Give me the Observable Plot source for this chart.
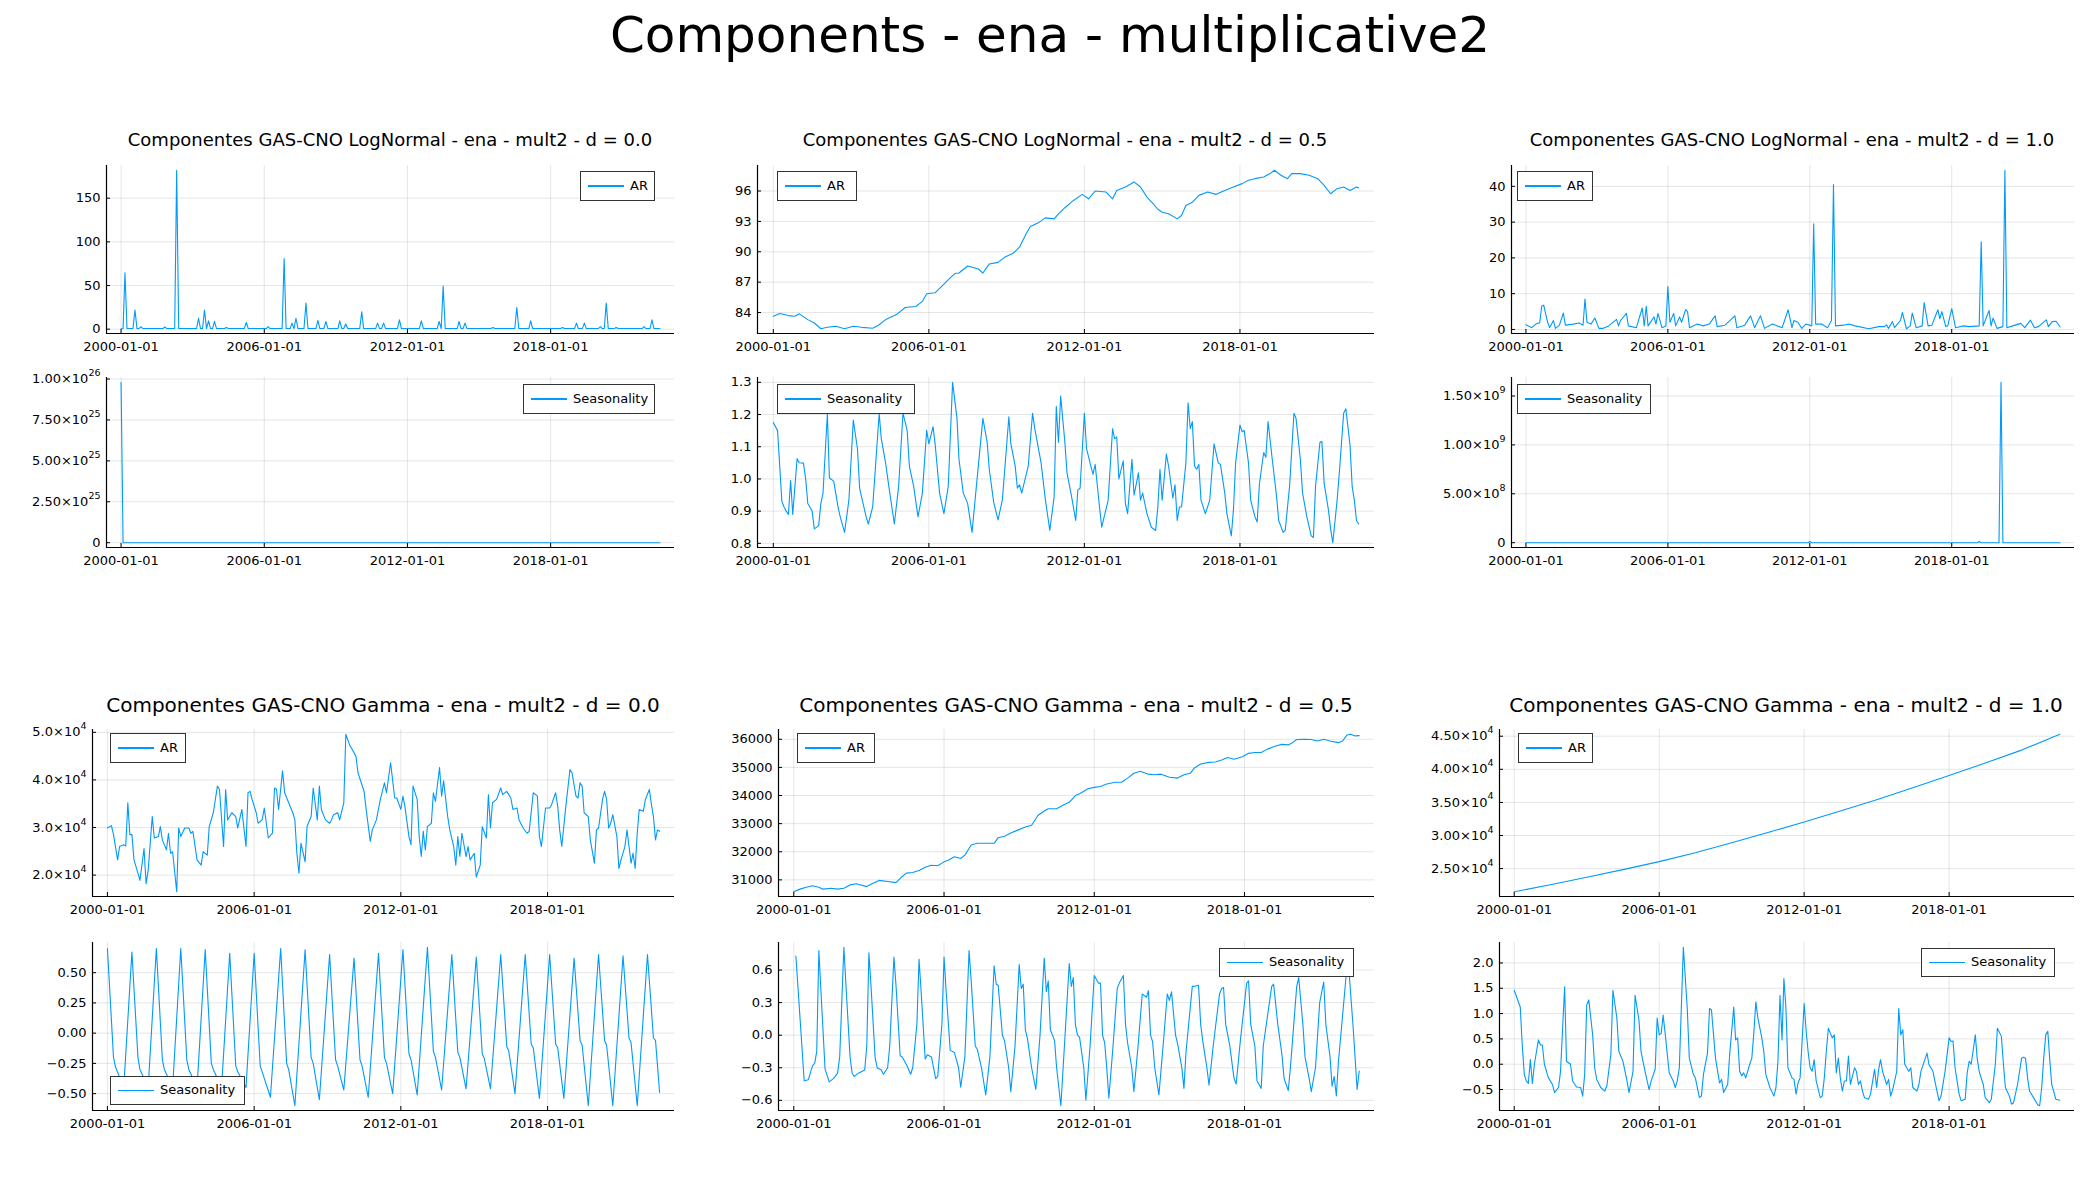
<!DOCTYPE html>
<html><head><meta charset="utf-8">
<script src="https://cdn.jsdelivr.net/npm/d3@7"></script>
<script src="https://cdn.jsdelivr.net/npm/@observablehq/plot@0.6"></script>
<style>
body{margin:0;background:#fff;}
#root{position:relative;width:2100px;height:1200px;font-family:"DejaVu Sans",sans-serif;overflow:hidden;background:#fff;}
.t{position:absolute;white-space:nowrap;text-align:center;color:#000;}
.leg{position:absolute;border:1.3px solid #333;background:#fff;box-sizing:border-box;font-size:13px;color:#000;}
.leg .sw{position:absolute;left:7px;width:36px;height:1.3px;background:#009AFA;}
.leg .lt{position:absolute;left:49px;top:0;}
.pn{position:absolute;}
</style></head>
<body><div id="root"></div>
<script>
// ---------- data (month index from 2000-01, value) ----------
const xTickLabels = ["2000-01-01","2006-01-01","2012-01-01","2018-01-01"];
const FIRST_MONTH = 0, LAST_MONTH = 271;

const lnD0_AR = [[0,0.5],[1,0.7],[2,64.7],[3,0.7],[6,0.7],[7,22],[8,0.7],[9,0.7],[10,3],[11,0.7],[21,0.7],[22,2.5],[23,0.7],[27,0.7],[28,182],[29,0.7],[38,0.7],[39,12.5],[40,0.7],[41,0.7],[42,22],[43,0.7],[44,9.5],[45,0.7],[46,0.7],[47,9],[48,0.7],[52,0.7],[53,2],[54,0.7],[62,0.7],[63,7.6],[64,0.7],[73,0.7],[74,3],[75,0.7],[81,0.7],[82,81],[83,0.7],[85,0.7],[86,7],[87,0.7],[88,12.5],[89,0.7],[92,0.7],[93,30],[94,0.7],[98,0.7],[99,10],[100,0.7],[102,0.7],[103,8.8],[104,0.7],[109,0.7],[110,9.5],[111,0.7],[112,0.7],[113,6],[114,0.7],[120,0.7],[121,20],[122,0.7],[128,0.7],[129,7],[130,0.7],[131,0.7],[132,7],[133,0.7],[139,0.7],[140,10.7],[141,0.7],[150,0.7],[151,9.5],[152,0.7],[159,0.7],[160,8.8],[161,0.7],[162,49.5],[163,0.7],[169,0.7],[170,8.8],[171,0.7],[172,0.7],[173,7],[174,0.7],[186,0.7],[187,2],[188,0.7],[198,0.7],[199,24.7],[200,0.7],[205,0.7],[206,9.5],[207,0.7],[221,0.7],[222,2],[223,0.7],[228,0.7],[229,7],[230,0.7],[232,0.7],[233,7],[234,0.7],[240,0.7],[241,3],[242,0.7],[243,0.7],[244,30],[245,0.7],[248,0.7],[249,2],[250,0.7],[262,0.7],[263,3],[264,0.7],[266,0.7],[267,10.7],[268,0.7],[271,0.7]];
const lnD0_S = [[0,9.8e25],[1,1],[271,1]];

const lnD05_AR = [[0,83.64],[3,83.9],[7,83.7],[10,83.64],[12,83.87],[16,83.3],[19,82.97],[22,82.4],[25,82.54],[29,82.64],[33,82.4],[37,82.64],[41,82.54],[46,82.45],[49,82.8],[52,83.3],[53,83.4],[57,83.8],[61,84.5],[66,84.6],[69,85.1],[71,85.85],[75,85.96],[79,86.8],[82,87.45],[84,87.85],[86,87.9],[90,88.6],[95,88.3],[97,87.9],[100,88.8],[104,88.95],[107,89.45],[111,89.85],[114,90.45],[117,91.75],[119,92.5],[123,92.9],[126,93.35],[130,93.25],[132,93.75],[135,94.35],[139,95.07],[143,95.67],[146,95.23],[149,96.0],[154,95.9],[157,95.23],[159,96.06],[163,96.4],[167,96.9],[170,96.4],[173,95.4],[176,94.7],[178,94.2],[180,93.9],[183,93.75],[187,93.25],[189,93.58],[191,94.57],[194,94.9],[197,95.57],[201,95.9],[205,95.67],[209,96.06],[213,96.4],[217,96.73],[220,97.06],[223,97.22],[227,97.39],[230,97.72],[232,98.05],[235,97.56],[238,97.22],[240,97.72],[244,97.72],[248,97.56],[252,97.22],[255,96.56],[258,95.73],[261,96.23],[264,96.4],[267,96.06],[270,96.4],[271,96.3]];
const lnD05_S = [[0,1.175],[2,1.15],[4,0.93],[5,0.913],[6,0.90],[7,0.89],[8,0.995],[9,0.89],[11,1.063],[12,1.05],[14,1.049],[15,1.0],[16,0.924],[18,0.9],[19,0.845],[21,0.855],[22,0.924],[23,0.955],[25,1.204],[26,1.003],[28,0.993],[30,0.913],[31,0.882],[33,0.834],[35,0.934],[37,1.183],[39,1.093],[40,0.971],[43,0.882],[44,0.86],[46,0.913],[49,1.204],[50,1.125],[52,1.05],[53,1.0],[56,0.86],[58,0.977],[60,1.204],[62,1.151],[63,1.04],[65,0.977],[67,0.882],[69,0.956],[71,1.151],[72,1.109],[74,1.162],[75,1.104],[77,0.956],[79,0.892],[81,0.977],[83,1.30],[85,1.188],[86,1.061],[88,0.956],[90,0.924],[92,0.834],[94,0.977],[97,1.188],[99,1.114],[100,1.03],[102,0.929],[104,0.873],[106,0.934],[109,1.193],[110,1.109],[112,1.04],[113,0.971],[114,0.982],[115,0.956],[118,1.04],[120,1.204],[121,1.156],[124,1.05],[126,0.934],[128,0.84],[130,0.945],[131,1.225],[132,1.114],[133,1.257],[135,1.114],[136,1.019],[138,0.95],[140,0.871],[141,0.966],[142,0.971],[144,1.204],[145,1.093],[147,1.04],[148,1.014],[149,1.045],[151,0.913],[152,0.85],[155,0.934],[157,1.156],[158,1.125],[159,1.13],[160,1.0],[162,1.056],[163,0.924],[164,0.892],[166,1.061],[167,0.95],[169,1.019],[170,0.934],[171,0.956],[173,0.892],[175,0.85],[177,0.84],[178,0.913],[179,1.03],[180,0.934],[182,1.077],[183,1.04],[185,0.94],[186,0.982],[187,0.871],[188,0.913],[189,0.913],[191,1.05],[192,1.236],[193,1.156],[194,1.178],[195,1.04],[196,1.03],[197,1.045],[198,0.934],[200,0.892],[202,0.934],[204,1.109],[206,1.05],[207,1.045],[209,0.956],[210,0.892],[212,0.823],[213,0.903],[214,1.05],[216,1.167],[217,1.146],[218,1.151],[220,1.05],[221,0.934],[223,0.882],[224,0.866],[225,0.982],[227,1.082],[228,1.067],[229,1.178],[231,1.061],[233,0.945],[234,0.871],[236,0.834],[237,0.84],[239,0.977],[241,1.204],[242,1.188],[244,1.061],[245,0.956],[247,0.882],[249,0.823],[250,0.818],[251,0.977],[253,1.114],[254,1.116],[255,0.987],[257,0.903],[258,0.845],[259,0.802],[261,0.934],[262,1.019],[264,1.204],[265,1.218],[267,1.104],[268,0.977],[269,0.934],[270,0.871],[271,0.86]];

const lnD1_AR = [[0,1.3],[3,0.5],[5,1.5],[7,1.9],[8,6.5],[9,6.8],[11,2],[12,0.5],[14,2.5],[15,0.3],[17,1.2],[19,4.6],[20,1.2],[24,1.5],[27,1.8],[29,1.2],[30,8.5],[31,2],[33,1.5],[35,3.2],[37,0.3],[39,0.3],[42,1],[46,2.8],[47,1],[48,2.5],[51,4.5],[52,1],[56,0.5],[59,6],[60,1],[61,6.5],[62,1],[65,3.5],[66,1.5],[67,4.5],[69,0.5],[71,1],[72,12],[73,2],[75,4.5],[76,1],[78,3.5],[79,2],[81,5.5],[82,5],[83,0.5],[87,1.5],[90,1],[93,1.5],[96,3.8],[97,0.8],[101,1.2],[106,3.8],[107,0.5],[111,1.2],[114,3.8],[116,0.5],[119,3.8],[121,0.3],[125,1.5],[130,0.5],[133,5.5],[135,0.5],[136,2.5],[138,2],[140,0.3],[142,1.5],[145,1],[146,29.5],[147,1.5],[150,1.5],[153,0.5],[155,2.5],[156,40.5],[157,1],[161,1.2],[164,1.5],[167,1],[174,0.2],[179,0.8],[182,0.8],[183,1.3],[184,0.3],[186,2.2],[187,0.5],[190,2.5],[191,4.8],[193,0.2],[195,1],[196,4.6],[198,0.5],[201,1],[202,7.5],[204,1],[206,1.2],[209,5.5],[210,3],[211,5],[213,0.8],[214,1],[216,5.8],[218,0.5],[222,1],[225,0.8],[230,1],[231,24.5],[232,1],[235,5.3],[236,1],[237,3.2],[239,0.3],[242,0.8],[243,44.5],[244,0.5],[247,1],[251,1.7],[253,0.5],[256,2.6],[258,0.5],[260,0.8],[264,2.7],[265,0.8],[267,2.2],[269,2.3],[271,0.7]];
const lnD1_S = [[0,1],[143,1],[144,1.2e7],[145,1],[229,1],[230,1.2e7],[231,1],[240,1],[241,1.64e9],[242,1],[271,1]];

const gD0_AR = [[0,2.99e4],[2,3.04e4],[3,2.85e4],[5,2.32e4],[6,2.6e4],[8,2.64e4],[9,2.61e4],[10,3.52e4],[11,2.85e4],[12,2.85e4],[13,2.32e4],[15,2.04e4],[16,1.89e4],[18,2.56e4],[19,1.82e4],[20,2.1e4],[22,3.23e4],[23,2.78e4],[25,2.81e4],[26,3.02e4],[27,2.74e4],[29,2.53e4],[30,2.88e4],[31,2.46e4],[32,2.49e4],[34,1.65e4],[35,2.99e4],[36,2.81e4],[38,2.99e4],[40,2.99e4],[41,2.88e4],[42,2.92e4],[44,2.32e4],[46,2.21e4],[47,2.49e4],[49,2.42e4],[50,3.02e4],[52,3.31e4],[54,3.87e4],[55,3.8e4],[57,2.6e4],[58,3.8e4],[59,3.16e4],[61,3.31e4],[63,3.23e4],[64,2.99e4],[66,3.38e4],[68,2.6e4],[69,3.73e4],[70,3.76e4],[71,3.59e4],[73,3.31e4],[74,3.09e4],[76,3.16e4],[77,3.41e4],[79,2.78e4],[81,2.88e4],[82,3.83e4],[83,3.8e4],[84,3.38e4],[86,4.19e4],[87,3.73e4],[89,3.52e4],[91,3.31e4],[92,3.16e4],[93,2.46e4],[94,2.04e4],[95,2.67e4],[97,2.28e4],[98,3.02e4],[100,3.23e4],[101,3.83e4],[103,3.16e4],[104,3.87e4],[105,3.38e4],[107,3.16e4],[109,3.09e4],[110,3.16e4],[111,3.27e4],[113,3.31e4],[114,3.16e4],[116,3.52e4],[117,4.96e4],[119,4.72e4],[120,4.65e4],[122,4.5e4],[123,4.15e4],[126,3.76e4],[127,3.38e4],[129,2.71e4],[130,2.95e4],[132,3.16e4],[134,3.59e4],[136,3.94e4],[137,3.73e4],[139,4.36e4],[141,3.62e4],[142,3.62e4],[144,3.38e4],[145,3.66e4],[146,3.45e4],[148,2.81e4],[149,2.64e4],[150,3.87e4],[152,3.59e4],[153,2.81e4],[154,2.39e4],[155,2.92e4],[156,2.53e4],[157,3.02e4],[159,3.09e4],[160,3.73e4],[161,3.55e4],[163,4.26e4],[164,3.66e4],[165,3.98e4],[167,3.23e4],[168,2.95e4],[170,2.6e4],[171,2.21e4],[172,2.81e4],[173,2.39e4],[174,2.88e4],[176,2.39e4],[177,2.6e4],[178,2.32e4],[180,2.46e4],[181,1.96e4],[183,2.21e4],[184,3.02e4],[186,2.78e4],[187,3.69e4],[188,2.99e4],[189,3.52e4],[191,3.59e4],[193,3.83e4],[194,3.69e4],[196,3.76e4],[198,3.62e4],[199,3.38e4],[201,3.41e4],[202,3.16e4],[204,2.99e4],[206,2.88e4],[207,2.92e4],[209,3.73e4],[211,3.66e4],[212,2.81e4],[213,2.6e4],[215,3.41e4],[217,3.41e4],[218,3.48e4],[220,3.73e4],[221,3.45e4],[222,2.95e4],[223,2.6e4],[225,3.45e4],[227,4.22e4],[228,4.15e4],[230,3.66e4],[231,3.62e4],[232,3.94e4],[233,3.87e4],[234,3.31e4],[236,3.23e4],[237,2.74e4],[239,2.25e4],[240,2.95e4],[241,2.99e4],[243,3.59e4],[244,3.76e4],[245,3.59e4],[246,2.99e4],[247,3.09e4],[248,3.27e4],[250,2.81e4],[251,2.14e4],[252,2.32e4],[254,2.6e4],[255,2.95e4],[257,2.25e4],[258,2.46e4],[259,2.14e4],[260,2.88e4],[261,3.38e4],[263,3.34e4],[264,3.59e4],[266,3.8e4],[267,3.48e4],[268,3.23e4],[269,2.74e4],[270,2.95e4],[271,2.92e4]];
const gD0_S = [[0,0.70],[3,-0.2],[4,-0.28],[8,-0.45],[12,0.67],[15,-0.2],[16,-0.3],[20,-0.45],[24,0.70],[27,-0.22],[28,-0.3],[32,-0.45],[36,0.70],[39,-0.22],[40,-0.3],[44,-0.45],[48,0.69],[51,-0.25],[52,-0.3],[56,-0.45],[60,0.66],[63,-0.27],[64,-0.32],[68,-0.45],[72,0.66],[75,-0.27],[76,-0.32],[80,-0.53],[85,0.70],[88,-0.25],[89,-0.3],[92,-0.6],[97,0.69],[100,-0.2],[101,-0.25],[104,-0.55],[109,0.65],[112,-0.22],[113,-0.27],[116,-0.47],[121,0.62],[124,-0.22],[125,-0.27],[128,-0.53],[133,0.66],[136,-0.2],[137,-0.25],[140,-0.5],[145,0.69],[148,-0.17],[149,-0.22],[152,-0.51],[157,0.71],[160,-0.15],[161,-0.2],[164,-0.47],[169,0.65],[172,-0.16],[173,-0.2],[176,-0.46],[181,0.63],[184,-0.17],[185,-0.21],[188,-0.46],[193,0.65],[196,-0.11],[197,-0.15],[200,-0.5],[205,0.65],[208,-0.09],[209,-0.12],[212,-0.54],[217,0.65],[220,-0.09],[221,-0.12],[224,-0.54],[229,0.62],[232,-0.06],[233,-0.1],[236,-0.6],[241,0.65],[244,-0.06],[245,-0.1],[248,-0.6],[253,0.64],[256,-0.04],[257,-0.08],[260,-0.6],[265,0.65],[268,-0.04],[269,-0.06],[271,-0.49]];

const gD05_AR = [[0,30576],[3,30670],[6,30740],[9,30790],[12,30740],[14,30670],[18,30700],[21,30670],[24,30700],[27,30820],[30,30860],[35,30760],[38,30880],[41,30980],[45,30940],[49,30900],[52,31120],[54,31240],[57,31260],[60,31330],[63,31450],[66,31520],[69,31500],[72,31640],[74,31700],[77,31820],[80,31760],[82,31880],[85,32240],[88,32300],[92,32300],[96,32300],[98,32500],[101,32550],[104,32670],[107,32760],[111,32880],[114,32940],[117,33290],[120,33450],[122,33530],[126,33530],[129,33650],[132,33760],[135,34000],[137,34060],[141,34240],[144,34290],[147,34320],[150,34410],[154,34470],[157,34470],[160,34620],[163,34790],[166,34860],[170,34760],[173,34740],[176,34760],[180,34650],[184,34620],[187,34740],[190,34790],[192,34980],[195,35120],[199,35180],[202,35190],[205,35260],[208,35350],[211,35290],[215,35380],[218,35500],[221,35530],[224,35530],[227,35650],[231,35760],[234,35820],[237,35800],[239,35880],[241,35990],[245,36000],[248,35990],[251,35940],[254,36000],[257,35940],[261,35880],[263,35940],[265,36150],[267,36180],[269,36120],[271,36130]];
const gD05_S = [[1,0.73],[5,-0.42],[7,-0.41],[9,-0.28],[10,-0.26],[11,-0.15],[12,0.78],[13,0.4],[15,-0.31],[17,-0.43],[19,-0.4],[21,-0.35],[22,-0.2],[24,0.81],[25,0.45],[27,-0.2],[28,-0.35],[29,-0.38],[31,-0.35],[34,-0.32],[35,-0.1],[36,0.76],[37,0.45],[39,-0.2],[40,-0.3],[42,-0.32],[43,-0.36],[45,-0.3],[46,-0.1],[48,0.72],[49,0.45],[51,-0.19],[52,-0.2],[54,-0.27],[56,-0.36],[57,-0.3],[59,0.1],[60,0.70],[61,0.4],[63,-0.22],[64,-0.18],[66,-0.2],[68,-0.4],[69,-0.38],[71,0.1],[72,0.72],[73,0.4],[75,-0.14],[77,-0.16],[79,-0.3],[80,-0.48],[82,-0.2],[84,0.78],[85,0.5],[87,-0.1],[88,-0.13],[90,-0.3],[92,-0.55],[94,-0.2],[96,0.64],[97,0.47],[98,0.46],[100,0.0],[101,-0.05],[103,-0.3],[104,-0.52],[106,-0.1],[108,0.65],[109,0.43],[110,0.47],[111,0.05],[112,-0.03],[114,-0.3],[116,-0.5],[118,0.0],[120,0.71],[121,0.4],[122,0.5],[123,0.05],[125,-0.05],[126,-0.3],[128,-0.65],[130,0.0],[132,0.66],[133,0.45],[134,0.53],[135,0.1],[136,0.0],[137,-0.02],[139,-0.3],[140,-0.6],[142,-0.1],[144,0.55],[146,0.48],[147,0.48],[148,0.0],[149,-0.07],[150,-0.3],[151,-0.58],[153,-0.1],[155,0.43],[156,0.48],[158,0.55],[159,0.1],[160,-0.07],[162,-0.3],[163,-0.52],[165,-0.1],[167,0.38],[169,0.35],[170,0.41],[171,0.0],[172,-0.06],[173,-0.3],[175,-0.55],[177,-0.1],[179,0.38],[180,0.32],[181,0.4],[183,0.0],[184,-0.08],[186,-0.3],[187,-0.49],[188,-0.15],[191,0.45],[192,0.45],[194,0.46],[195,0.1],[196,-0.05],[198,-0.3],[199,-0.46],[201,-0.1],[204,0.38],[205,0.43],[206,0.44],[207,0.1],[209,-0.1],[210,-0.25],[211,-0.4],[212,-0.45],[214,-0.05],[217,0.48],[218,0.5],[219,0.1],[221,-0.1],[222,-0.42],[224,-0.49],[225,-0.1],[229,0.45],[230,0.47],[232,0.1],[234,-0.18],[235,-0.4],[237,-0.51],[238,-0.3],[241,0.45],[242,0.53],[244,0.1],[245,-0.2],[247,-0.4],[248,-0.52],[250,-0.3],[252,0.3],[254,0.49],[255,0.1],[257,-0.2],[258,-0.47],[259,-0.38],[260,-0.56],[261,-0.25],[264,0.4],[265,0.62],[266,0.62],[268,0.1],[269,-0.2],[270,-0.5],[271,-0.33]];

const gD1_AR = [[0,21500],[18,22550],[36,23700],[54,24850],[72,26050],[90,27400],[108,28900],[126,30450],[144,32050],[162,33700],[180,35400],[198,37200],[216,39050],[234,40950],[252,42900],[271,45300]];
const gD1_S = [[0,1.46],[3,1.13],[4,0.38],[5,-0.2],[6,-0.33],[7,-0.38],[8,0.09],[9,-0.38],[10,0.0],[12,0.48],[13,0.38],[14,0.38],[15,0.0],[17,-0.27],[19,-0.4],[20,-0.56],[22,-0.46],[23,-0.14],[25,1.53],[26,0.06],[28,0.0],[29,-0.33],[31,-0.45],[33,-0.46],[34,-0.63],[35,-0.2],[36,1.17],[37,1.27],[39,0.58],[40,-0.07],[41,-0.3],[43,-0.46],[45,-0.53],[46,-0.43],[48,0.19],[49,1.46],[51,0.91],[52,0.25],[54,0.06],[56,-0.33],[57,-0.56],[59,-0.14],[60,1.36],[62,0.87],[63,0.25],[65,-0.14],[67,-0.5],[68,-0.33],[70,-0.1],[71,0.91],[72,0.58],[73,0.61],[74,0.97],[75,0.61],[77,-0.17],[79,-0.33],[80,-0.46],[81,-0.33],[82,-0.07],[84,2.31],[86,1.1],[87,0.12],[89,-0.2],[90,-0.27],[92,-0.66],[93,-0.63],[94,-0.2],[96,0.22],[97,1.1],[98,1.07],[100,0.12],[102,-0.37],[103,-0.3],[104,-0.56],[106,-0.4],[107,0.19],[109,1.13],[110,0.48],[111,0.52],[112,-0.14],[113,-0.23],[114,-0.17],[115,-0.27],[117,0.0],[118,0.12],[119,0.61],[120,1.23],[121,0.91],[123,0.52],[124,0.25],[125,-0.2],[127,-0.46],[129,-0.63],[130,-0.46],[131,0.06],[132,1.36],[133,0.48],[134,1.69],[135,1.1],[136,-0.07],[138,-0.27],[139,-0.3],[140,-0.59],[141,-0.37],[142,-0.27],[144,1.2],[145,0.65],[146,0.25],[147,-0.07],[148,-0.14],[149,0.09],[150,-0.33],[152,-0.66],[153,-0.63],[154,-0.27],[155,0.25],[156,0.71],[158,0.52],[159,0.58],[160,-0.17],[161,0.12],[162,-0.27],[163,-0.53],[164,-0.33],[165,-0.33],[166,0.16],[167,-0.4],[169,-0.07],[170,-0.14],[171,-0.4],[172,-0.33],[173,-0.53],[174,-0.66],[176,-0.69],[177,-0.59],[179,-0.1],[180,-0.46],[181,-0.1],[182,0.09],[183,-0.14],[185,-0.4],[186,-0.3],[187,-0.63],[188,-0.5],[190,-0.14],[191,1.1],[192,0.58],[193,0.68],[194,0.0],[196,-0.14],[197,-0.07],[198,-0.46],[200,-0.53],[201,-0.4],[202,-0.14],[205,0.22],[206,0.0],[207,-0.07],[208,-0.14],[210,-0.53],[211,-0.72],[212,-0.63],[214,-0.14],[216,0.52],[217,0.45],[218,0.46],[219,-0.07],[221,-0.59],[222,-0.72],[224,-0.69],[225,-0.17],[226,0.06],[227,0.0],[229,0.58],[230,0.12],[231,-0.14],[233,-0.4],[234,-0.66],[236,-0.76],[237,-0.69],[239,0.0],[240,0.71],[242,0.55],[243,0.0],[244,-0.46],[246,-0.63],[247,-0.79],[248,-0.76],[250,-0.4],[252,0.12],[253,0.14],[254,0.12],[255,-0.27],[256,-0.53],[258,-0.66],[260,-0.8],[261,-0.82],[262,-0.46],[263,0.12],[264,0.58],[265,0.65],[266,0.12],[267,-0.4],[268,-0.53],[269,-0.69],[271,-0.71]];

// ---------- tick values and labels ("^" marks an exponent) ----------
const lnD0_AR_ticks = [0,50,100,150], lnD0_AR_labels = ["0","50","100","150"];
const lnD0_S_ticks = [0,2.5e25,5e25,7.5e25,1e26], lnD0_S_labels = ["0","2.50×10^25","5.00×10^25","7.50×10^25","1.00×10^26"];
const lnD05_AR_ticks = [84,87,90,93,96], lnD05_AR_labels = ["84","87","90","93","96"];
const lnD05_S_ticks = [0.8,0.9,1.0,1.1,1.2,1.3], lnD05_S_labels = ["0.8","0.9","1.0","1.1","1.2","1.3"];
const lnD1_AR_ticks = [0,10,20,30,40], lnD1_AR_labels = ["0","10","20","30","40"];
const lnD1_S_ticks = [0,5e8,1e9,1.5e9], lnD1_S_labels = ["0","5.00×10^8","1.00×10^9","1.50×10^9"];
const gD0_AR_ticks = [2e4,3e4,4e4,5e4], gD0_AR_labels = ["2.0×10^4","3.0×10^4","4.0×10^4","5.0×10^4"];
const gD0_S_ticks = [-0.5,-0.25,0,0.25,0.5], gD0_S_labels = ["−0.50","−0.25","0.00","0.25","0.50"];
const gD05_AR_ticks = [31000,32000,33000,34000,35000,36000], gD05_AR_labels = ["31000","32000","33000","34000","35000","36000"];
const gD05_S_ticks = [-0.6,-0.3,0,0.3,0.6], gD05_S_labels = ["−0.6","−0.3","0.0","0.3","0.6"];
const gD1_AR_ticks = [2.5e4,3e4,3.5e4,4e4,4.5e4], gD1_AR_labels = ["2.50×10^4","3.00×10^4","3.50×10^4","4.00×10^4","4.50×10^4"];
const gD1_S_ticks = [-0.5,0,0.5,1,1.5,2], gD1_S_labels = ["−0.5","0.0","0.5","1.0","1.5","2.0"];

const mainTitle = "Components - ena - multiplicative2";
const subTitles = [
  "Componentes GAS-CNO LogNormal - ena - mult2 - d = 0.0",
  "Componentes GAS-CNO LogNormal - ena - mult2 - d = 0.5",
  "Componentes GAS-CNO LogNormal - ena - mult2 - d = 1.0",
  "Componentes GAS-CNO Gamma - ena - mult2 - d = 0.0",
  "Componentes GAS-CNO Gamma - ena - mult2 - d = 0.5",
  "Componentes GAS-CNO Gamma - ena - mult2 - d = 1.0"];

// ---------- layout ----------
const COLOR = "#009AFA";
const root = document.getElementById("root");
const monthDate = m => new Date(Date.UTC(2000, m, 1));

function addText(txt, x, top, size, w) {
  const d = document.createElement("div");
  d.className = "t";
  d.textContent = txt;
  d.style.left = (x - w/2) + "px"; d.style.width = w + "px";
  d.style.top = top + "px"; d.style.fontSize = size + "px"; d.style.lineHeight = size + "px";
  root.appendChild(d);
}

function addLegend([left, top, w, h], label) {
  const d = document.createElement("div");
  d.className = "leg";
  d.style.left = left + "px"; d.style.top = top + "px";
  d.style.width = w + "px"; d.style.height = h + "px";
  const sw = document.createElement("div"); sw.className = "sw"; sw.style.top = (h/2 - 1.6) + "px";
  const lt = document.createElement("div"); lt.className = "lt"; lt.textContent = label;
  lt.style.lineHeight = (h - 2.6) + "px";
  d.appendChild(sw); d.appendChild(lt);
  root.appendChild(d);
}

function superscripts(svg) {
  svg.querySelectorAll("text").forEach(t => {
    const s = t.textContent;
    if (s.indexOf("^") < 0 || t.children.length) return;
    const [base, exp] = s.split("^");
    t.textContent = base;
    const ts = document.createElementNS("http://www.w3.org/2000/svg", "tspan");
    ts.setAttribute("font-size", "9.5px");
    ts.setAttribute("dy", "-0.75em");
    ts.textContent = exp;
    t.appendChild(ts);
  });
}

function addPanel({data, rect: [L, T, R, B], ticks, labels, legend, legendText}) {
  const rows = data.map(([m, v]) => ({date: monthDate(m), value: v}));
  const x0 = +monthDate(FIRST_MONTH), x1 = +monthDate(LAST_MONTH), xs = x1 - x0;
  const xDomain = [new Date(x0 - 0.027 * xs), new Date(x1 + 0.027 * xs)];
  const [ymin, ymax] = d3.extent(rows, d => d.value);
  const ys = ymax - ymin;
  const yDomain = [ymin - 0.03 * ys, ymax + 0.03 * ys];
  const xTicks = xTickLabels.map(s => new Date(s + "T00:00:00Z"));
  const labelMap = new Map(ticks.map((t, i) => [t, labels[i]]));
  const mL = 120, mR = 6, mT = 16, mB = 30;
  const w = R - L, h = B - T;
  const grid = {stroke: "#000", strokeOpacity: 0.1, strokeWidth: 1};
  const svg = Plot.plot({
    width: w + mL + mR, height: h + mT + mB,
    marginLeft: mL, marginRight: mR, marginTop: mT, marginBottom: mB,
    style: {fontFamily: "DejaVu Sans", fontSize: "13px", color: "#000", background: "transparent"},
    x: {type: "utc", domain: xDomain, label: null},
    y: {domain: yDomain, label: null},
    marks: [
      Plot.gridX(xTicks, grid),
      Plot.gridY(ticks, grid),
      Plot.line(rows, {x: "date", y: "value", stroke: COLOR, strokeWidth: 1.1}),
      Plot.ruleX([xDomain[0]], {stroke: "#000", strokeWidth: 1.2}),
      Plot.ruleY([yDomain[0]], {stroke: "#000", strokeWidth: 1.2}),
      Plot.tickX(xTicks, {x: d => d, stroke: "#000", insetTop: h - 4}),
      Plot.tickY(ticks, {y: d => d, stroke: "#000", insetRight: w - 4}),
      Plot.axisX(xTicks, {tickSize: 0, tickPadding: 8, label: null, tickFormat: d3.utcFormat("%Y-%m-%d")}),
      Plot.axisY(ticks, {tickSize: 0, tickPadding: 6, label: null, tickFormat: d => labelMap.get(d)})
    ]
  });
  superscripts(svg);
  const holder = document.createElement("div");
  holder.className = "pn";
  holder.style.left = (L - mL) + "px"; holder.style.top = (T - mT) + "px";
  holder.appendChild(svg);
  root.appendChild(holder);
  addLegend(legend, legendText);
}

const panels = [
  {data: lnD0_AR, rect: [106,165,674,333], ticks: lnD0_AR_ticks, labels: lnD0_AR_labels, legend: [580,171,75,30], legendText: "AR"},
  {data: lnD0_S, rect: [106,377,674,547], ticks: lnD0_S_ticks, labels: lnD0_S_labels, legend: [523,384,132,30], legendText: "Seasonality"},
  {data: lnD05_AR, rect: [757,165,1374,333], ticks: lnD05_AR_ticks, labels: lnD05_AR_labels, legend: [777,171,80,30], legendText: "AR"},
  {data: lnD05_S, rect: [757,377,1374,547], ticks: lnD05_S_ticks, labels: lnD05_S_labels, legend: [777,384,138,30], legendText: "Seasonality"},
  {data: lnD1_AR, rect: [1511,165,2074,333], ticks: lnD1_AR_ticks, labels: lnD1_AR_labels, legend: [1517,171,76,30], legendText: "AR"},
  {data: lnD1_S, rect: [1511,377,2074,547], ticks: lnD1_S_ticks, labels: lnD1_S_labels, legend: [1517,384,134,30], legendText: "Seasonality"},
  {data: gD0_AR, rect: [92,729,674,896], ticks: gD0_AR_ticks, labels: gD0_AR_labels, legend: [110,733,76,30], legendText: "AR"},
  {data: gD0_S, rect: [92,942,674,1110], ticks: gD0_S_ticks, labels: gD0_S_labels, legend: [110,1076,135,29], legendText: "Seasonality"},
  {data: gD05_AR, rect: [778,729,1374,896], ticks: gD05_AR_ticks, labels: gD05_AR_labels, legend: [797,733,78,30], legendText: "AR"},
  {data: gD05_S, rect: [778,942,1374,1110], ticks: gD05_S_ticks, labels: gD05_S_labels, legend: [1219,948,135,29], legendText: "Seasonality"},
  {data: gD1_AR, rect: [1499,729,2074,896], ticks: gD1_AR_ticks, labels: gD1_AR_labels, legend: [1518,733,75,30], legendText: "AR"},
  {data: gD1_S, rect: [1499,942,2074,1110], ticks: gD1_S_ticks, labels: gD1_S_labels, legend: [1921,948,134,29], legendText: "Seasonality"}
];
panels.forEach(addPanel);

addText(mainTitle, 1050, 10, 50, 1400);
const titleCenters = [[390,131,18],[1065,131,18],[1792,131,18],[383,695,20],[1076,695,20],[1786,695,20]];
subTitles.forEach((s, i) => addText(s, titleCenters[i][0], titleCenters[i][1], titleCenters[i][2], 700));
</script>
</body></html>
